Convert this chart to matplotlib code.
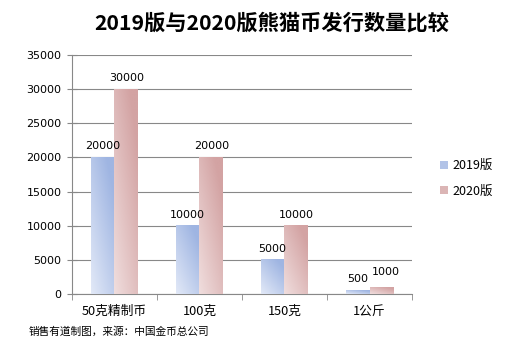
import numpy as np
import matplotlib
matplotlib.use("Agg")
import matplotlib.pyplot as plt
from matplotlib.colors import to_rgb
from matplotlib.patches import Patch

plt.rcParams['font.family'] = ['Noto Sans CJK SC', 'DejaVu Sans']

categories = ["50克精制币", "100克", "150克", "1公斤"]
series_names = ["2019版", "2020版"]
v2019 = [20000, 10000, 5000, 500]
v2020 = [30000, 20000, 10000, 1000]

title = "2019版与2020版熊猫币发行数量比较"
source = "销售有道制图，来源：中国金币总公司"

# light / dark ends of the gradient for each series
grad = {
    "2019版": ("#eef2fb", "#9fb5e2"),
    "2020版": ("#f5e8e8", "#d3a3a3"),
}


def gradient_bar(ax, x0, x1, h, light, dark):
    lo = np.array(to_rgb(light))
    hi = np.array(to_rgb(dark))
    nx, ny = 40, 80
    xf = np.linspace(0, 1, nx)[None, :]
    yf = np.linspace(0, 1, ny)[:, None]
    t = np.clip(0.45 * xf + 0.55 * yf + 0.15, 0, 1)
    img = lo[None, None, :] + (hi - lo)[None, None, :] * t[:, :, None]
    ax.imshow(img, extent=(x0, x1, 0, h), origin="lower", aspect="auto",
              interpolation="bilinear", zorder=3)


def main():
    fig = plt.figure(figsize=(5.14, 3.57), dpi=100)
    ax = fig.add_axes([0.140, 0.1765, 0.6616, 0.6695])

    w = 0.28
    x = np.arange(len(categories))
    for i in range(len(categories)):
        gradient_bar(ax, x[i] - w, x[i], v2019[i], *grad["2019版"])
        gradient_bar(ax, x[i], x[i] + w, v2020[i], *grad["2020版"])
        ax.text(x[i] - w / 2, v2019[i] + 900, str(v2019[i]), ha="center",
                va="bottom", fontsize=8, family=["DejaVu Sans"], zorder=5)
        dy = 1500 if i == 3 else 900
        ax.text(x[i] + w / 2 + (0.05 if i == 3 else 0), v2020[i] + dy,
                str(v2020[i]), ha="center", va="bottom", fontsize=8,
                family=["DejaVu Sans"], zorder=5)

    ax.set_xlim(-0.5, 3.5)
    ax.set_ylim(0, 35000)
    ax.set_yticks(np.arange(0, 35001, 5000))
    ax.grid(axis="y", color="#888888", linewidth=0.8, zorder=0)
    ax.set_axisbelow(True)

    ax.set_xticks(x)
    ax.set_xticklabels(categories, fontsize=9.2)
    ax.set_xticks(np.arange(-0.5, 3.6, 1), minor=True)
    ax.tick_params(axis="x", which="major", length=0, pad=8)
    ax.tick_params(axis="x", which="minor", length=4, color="#888888")
    ax.tick_params(axis="y", length=7, direction="inout", color="#888888",
                   labelsize=8, pad=4)
    for lab in ax.get_yticklabels():
        lab.set_family(["DejaVu Sans"])

    for s in ["top", "right"]:
        ax.spines[s].set_visible(False)
    for s in ["left", "bottom"]:
        ax.spines[s].set_color("#888888")

    handles = [Patch(facecolor=grad[n][1], alpha=0.8, edgecolor="none")
               for n in series_names]
    fig.legend(handles, series_names, loc="center left",
               bbox_to_anchor=(0.835, 0.50), frameon=False, fontsize=9,
               handlelength=0.6, handleheight=0.6, handletextpad=0.4,
               labelspacing=1.0)

    fig.text(0.529, 0.935, title, ha="center", va="center", fontsize=15.3,
             fontweight="bold")
    fig.text(0.055, 0.072, source, ha="left", va="center", fontsize=7.7)

    fig.savefig("out.png", dpi=100)


if __name__ == "__main__":
    main()
